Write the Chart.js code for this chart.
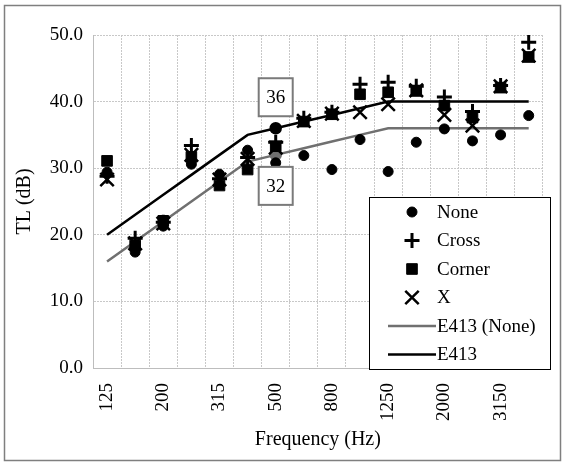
<!DOCTYPE html>
<html>
<head>
<meta charset="utf-8">
<script src="https://cdn.jsdelivr.net/npm/chart.js@4.4.0/dist/chart.umd.min.js"></script>
<style>
  body { margin: 0; background: #fff; }
  #wrap { width: 567px; height: 466px; }
</style>
</head>
<body>
<div id="wrap"><canvas id="tlChart"></canvas></div>
<script>
// Data
const frequencies = ['125', '160', '200', '250', '315', '400', '500', '630', '800', '1000', '1250', '1600', '2000', '2500', '3150', '4000'];
const noneTL   = [29.4, 17.4, 21.3, 30.6, 29.1, 32.7, 30.8, 31.9, 29.8, 34.3, 29.5, 33.9, 35.9, 34.1, 35.0, 37.9];
const crossTL  = [28.8, 19.5, 21.9, 33.4, 28.4, 31.6, 33.9, 37.5, 38.4, 42.6, 42.9, 42.3, 40.7, 38.5, 42.4, 48.9];
const cornerTL = [31.1, 18.4, 22.1, 31.7, 27.4, 29.8, 33.3, 37.0, 38.1, 41.1, 41.4, 41.6, 39.4, 37.6, 42.1, 46.7];
const xTL      = [28.3, 18.7, 21.7, 32.0, 28.3, 31.4, 33.1, 37.1, 38.2, 38.4, 39.6, 41.7, 38.0, 36.4, 42.3, 46.9];
const e413None = [16, 19, 22, 25, 28, 31, 32, 33, 34, 35, 36, 36, 36, 36, 36, 36];
const e413     = [20, 23, 26, 29, 32, 35, 36, 37, 38, 39, 40, 40, 40, 40, 40, 40];
const yTicks = [0, 10, 20, 30, 40, 50];

const serif = '"Liberation Serif", "Times New Roman", serif';
const stcIndex = frequencies.indexOf('500');

// marker only at the 500 Hz point of the contour lines
function stcRadius(r) {
    return frequencies.map((f, i) => (i === stcIndex ? r : 0));
}

function markerSet(label, data, style, radius, width) {
    return {
        label: label,
        data: data,
        showLine: false,
        pointStyle: style,
        pointRadius: radius,
        pointHoverRadius: radius,
        pointBorderWidth: width,
        pointBackgroundColor: '#000',
        pointBorderColor: '#000',
        borderColor: '#000',
        backgroundColor: '#000',
        order: 0
    };
}

function contourSet(label, data, color, labelPos) {
    return {
        label: label,
        data: data,
        borderColor: color,
        backgroundColor: color,
        borderWidth: 2.5,
        pointStyle: 'circle',
        pointRadius: stcRadius(5),
        pointHoverRadius: stcRadius(5),
        pointBackgroundColor: color,
        pointBorderColor: color,
        tension: 0,
        stcLabel: labelPos,
        order: 1
    };
}

// STC value boxes ("36" / "32")
const stcBoxes = {
    id: 'stcBoxes',
    afterDatasetsDraw(chart) {
        const ctx = chart.ctx;
        chart.data.datasets.forEach((ds, i) => {
            if (!ds.stcLabel) return;
            const pt = chart.getDatasetMeta(i).data[stcIndex];
            const w = 34, h = 38, gap = 12;
            const top = ds.stcLabel === 'above' ? pt.y - gap - h : pt.y + gap;
            ctx.save();
            ctx.fillStyle = '#fff';
            ctx.strokeStyle = '#7a7a7a';
            ctx.lineWidth = 2;
            ctx.fillRect(pt.x - w / 2, top, w, h);
            ctx.strokeRect(pt.x - w / 2, top, w, h);
            ctx.fillStyle = '#000';
            ctx.font = '19px ' + serif;
            ctx.textAlign = 'center';
            ctx.textBaseline = 'middle';
            ctx.fillText(String(ds.data[stcIndex]), pt.x, top + h / 2 + 1);
            ctx.restore();
        });
    }
};

// Legend box sitting inside the plot, lower right
const boxLegend = {
    id: 'boxLegend',
    afterDraw(chart) {
        const ctx = chart.ctx;
        const left = 369, top = 197, right = 551, bottom = 370;
        ctx.save();
        ctx.fillStyle = '#fff';
        ctx.fillRect(left, top, right - left, bottom - top);
        ctx.strokeStyle = '#000';
        ctx.lineWidth = 1;
        ctx.strokeRect(left + 0.5, top + 0.5, right - left - 1, bottom - top - 1);
        chart.data.datasets.forEach((ds, i) => {
            const y = 212 + i * 28.5;
            const mx = 412;
            if (ds.showLine === false) {
                ctx.fillStyle = ds.pointBackgroundColor;
                ctx.strokeStyle = ds.pointBorderColor;
                ctx.lineWidth = ds.pointBorderWidth;
                Chart.helpers.drawPoint(ctx, { pointStyle: ds.pointStyle, radius: ds.pointRadius, rotation: 0, borderWidth: ds.pointBorderWidth }, mx, y);
            } else {
                ctx.strokeStyle = ds.borderColor;
                ctx.lineWidth = ds.borderWidth;
                ctx.beginPath();
                ctx.moveTo(388, y);
                ctx.lineTo(436, y);
                ctx.stroke();
            }
            ctx.fillStyle = '#000';
            ctx.font = '19px ' + serif;
            ctx.textAlign = 'left';
            ctx.textBaseline = 'middle';
            ctx.fillText(ds.label, 437, y + 1);
        });
        ctx.restore();
    }
};

// Outer frame of the figure
const outerFrame = {
    id: 'outerFrame',
    beforeDraw(chart) {
        const ctx = chart.ctx;
        ctx.save();
        ctx.fillStyle = '#fff';
        ctx.fillRect(0, 0, chart.width, chart.height);
        ctx.restore();
    },
    afterDraw(chart) {
        const ctx = chart.ctx;
        ctx.save();
        ctx.strokeStyle = '#7f7f7f';
        ctx.lineWidth = 1.5;
        ctx.strokeRect(4.5, 5.5, 556, 455);
        ctx.restore();
    }
};

const ctx = document.getElementById('tlChart').getContext('2d');

new Chart(ctx, {
    type: 'line',
    data: {
        labels: frequencies,
        datasets: [
            markerSet('None', noneTL, 'circle', 5, 1),
            markerSet('Cross', crossTL, 'cross', 7.5, 3),
            markerSet('Corner', cornerTL, 'rect', 7.5, 1),
            markerSet('X', xTL, 'crossRot', 9.5, 2.5),
            contourSet('E413 (None)', e413None, '#707070', 'below'),
            contourSet('E413', e413, '#000', 'above')
        ]
    },
    options: {
        responsive: true,
        maintainAspectRatio: false,
        animation: false,
        layout: {
            padding: { left: 0, top: 35, right: 16, bottom: 0 }
        },
        plugins: {
            legend: { display: false },
            tooltip: { enabled: false }
        },
        scales: {
            x: {
                type: 'category',
                offset: true,
                grid: { offset: true, color: '#c8c8c8', drawTicks: false },
                border: { color: '#bdbdbd', dash: [2, 1] },
                ticks: {
                    autoSkip: false,
                    minRotation: 90,
                    maxRotation: 90,
                    padding: 15,
                    color: '#000',
                    font: { family: serif, size: 19 },
                    callback: function (value, index) {
                        return index % 2 === 0 ? frequencies[index] : '';
                    }
                },
                title: {
                    display: true,
                    text: 'Frequency (Hz)',
                    color: '#000',
                    font: { family: serif, size: 20 },
                    padding: { top: 0, bottom: 14 }
                },
                afterFit(scale) { scale.height = 98; }
            },
            y: {
                min: 0,
                max: 50,
                afterBuildTicks(scale) { scale.ticks = yTicks.map(v => ({ value: v })); },
                grid: { color: '#c8c8c8', drawTicks: false },
                border: { color: '#bdbdbd', dash: [2, 1] },
                ticks: {
                    padding: 10,
                    color: '#000',
                    font: { family: serif, size: 19 },
                    callback: value => value.toFixed(1)
                },
                title: {
                    display: true,
                    text: 'TL (dB)',
                    color: '#000',
                    font: { family: serif, size: 20 },
                    padding: { top: 13, bottom: 0 }
                },
                afterFit(scale) { scale.width = 93; }
            }
        }
    },
    plugins: [outerFrame, stcBoxes, boxLegend]
});
</script>
</body>
</html>
